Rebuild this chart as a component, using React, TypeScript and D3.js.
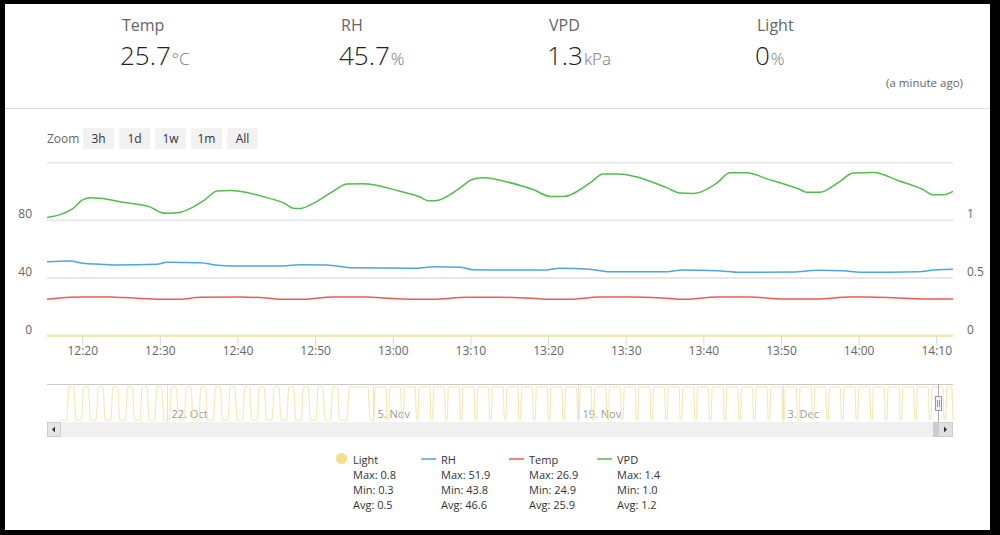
import React from "react";
import * as d3 from "d3";

// ---------- header ----------
const headerLabels = ["Temp", "RH", "VPD", "Light"];
const headerValues = ["25.7", "45.7", "1.3", "0"];
const headerUnits = ["°C", "%", "kPa", "%"];
const updatedText = "(a minute ago)";
const zoomButtons = ["3h", "1d", "1w", "1m", "All"];

// ---------- main chart data (minutes after 12:00, 14 Dec) ----------
const mainStartMin = 15.4;
const mainEndMin = 132.09;

const vpdMinutes = [15.4, 17.08, 18.62, 20.04, 20.94, 22.23, 25.45, 28.67, 29.96, 30.99, 32.15, 33.82, 35.75, 37.3, 38.97, 43.74, 46.06, 47.09, 47.99, 50.18, 52.24, 54.04, 56.1, 60.87, 63.44, 64.47, 65.38, 68.6, 70.14, 71.43, 72.72, 73.75, 78.0, 80.19, 81.86, 85.34, 87.01, 88.82, 95.26, 96.93, 98.61, 101.7, 103.37, 105.56, 108.14, 112.39, 113.29, 114.96, 117.54, 119.21, 121.79, 125.27, 128.23, 129.52, 130.81, 132.09];
const vpdValues = [1.026, 1.05, 1.097, 1.18, 1.196, 1.192, 1.154, 1.117, 1.071, 1.061, 1.065, 1.102, 1.18, 1.254, 1.258, 1.197, 1.145, 1.106, 1.103, 1.165, 1.252, 1.315, 1.317, 1.252, 1.203, 1.171, 1.17, 1.282, 1.354, 1.369, 1.363, 1.348, 1.267, 1.208, 1.206, 1.325, 1.402, 1.403, 1.282, 1.237, 1.234, 1.325, 1.413, 1.413, 1.36, 1.267, 1.243, 1.243, 1.339, 1.41, 1.415, 1.339, 1.267, 1.222, 1.222, 1.252];

const rhMinutes = [15.4, 18.36, 20.04, 22.23, 24.42, 29.57, 30.86, 35.11, 37.3, 39.36, 45.8, 47.99, 51.47, 54.43, 63.06, 65.12, 68.6, 70.27, 73.75, 79.29, 81.48, 85.34, 87.92, 95.26, 97.32, 101.7, 104.66, 111.49, 114.58, 117.93, 120.12, 127.46, 130.03, 132.09];
const rhValues = [51.33, 51.9, 50.22, 49.53, 49.04, 49.53, 50.91, 50.63, 48.83, 48.35, 48.35, 49.25, 49.04, 47.17, 46.75, 47.86, 47.44, 45.78, 45.57, 45.57, 46.75, 46.06, 44.39, 44.39, 45.57, 45.09, 43.98, 44.18, 45.36, 45.09, 43.98, 44.39, 45.78, 46.06];

const tempMinutes = [15.4, 18.36, 20.04, 23.52, 26.48, 29.96, 32.53, 35.11, 40.26, 43.74, 45.8, 47.99, 52.24, 56.62, 58.68, 63.06, 65.12, 69.5, 73.75, 78.0, 80.19, 82.38, 86.63, 90.88, 95.26, 97.32, 101.7, 105.95, 110.2, 114.58, 118.83, 121.02, 125.27, 129.52, 132.09];
const tempValues = [25.2, 26.7, 26.9, 26.9, 26.1, 25.2, 25.2, 26.7, 26.9, 26.1, 25.2, 25.2, 26.9, 26.9, 26.1, 25.2, 25.2, 26.7, 26.7, 25.9, 25.2, 25.2, 26.9, 26.9, 25.9, 25.2, 26.9, 26.9, 25.4, 25.4, 26.9, 26.9, 26.1, 25.4, 25.4];

const lightMinutes = [15.4, 132.09];
const lightValues = [0, 0];

const leftTicks = [0, 40, 80, 120];
const leftLabels = ["0", "40", "80", ""];
const rightTicks = [0, 0.5, 1, 1.5];
const rightLabels = ["0", "0.5", "1", ""];

// ---------- navigator data (days after 14 Oct 2018 00:00) ----------
const lightNavStart = 0.667;
const lightNavEnd = 61.59;
const lightOnDays = [1.13, 2.13, 3.13, 4.13, 5.13, 6.13, 7.13, 8.13, 9.13, 10.13, 11.13, 12.13, 13.13, 14.13, 15.13, 16.13, 17.13, 18.13, 19.13, 20.25, 22.08, 23.08, 24.08, 25.08, 26.08, 27.08, 28.08, 29.08, 30.08, 31.08, 32.08, 33.08, 34.08, 35.08, 36.08, 37.08, 38.08, 39.08, 40.08, 41.08, 42.08, 43.08, 44.08, 45.08, 46.08, 47.08, 48.08, 49.08, 50.08, 51.08, 52.08, 53.08, 54.08, 55.08, 56.08, 57.08, 58.08, 59.08, 60.08, 61.08];
const lightOffDays = [1.6, 2.6, 3.6, 4.6, 5.6, 6.6, 7.6, 8.6, 9.6, 10.6, 11.6, 12.6, 13.6, 14.6, 15.6, 16.6, 17.6, 18.6, 19.6, 21.67, 22.9, 23.9, 24.9, 25.9, 26.9, 27.9, 28.9, 29.9, 30.9, 31.9, 32.9, 33.9, 34.9, 35.9, 36.9, 37.9, 38.9, 39.9, 40.9, 41.9, 42.9, 43.9, 44.9, 45.9, 46.9, 47.9, 48.9, 49.9, 50.9, 51.9, 52.9, 53.9, 54.9, 55.9, 56.9, 57.9, 58.9, 59.9, 60.9, 61.5];
const navTickDates = ["2018-10-22", "2018-11-05", "2018-11-19", "2018-12-03"];
const navTickLabels = ["22. Oct", "5. Nov", "19. Nov", "3. Dec"];

// ---------- legend ----------
const legendNames = ["Light", "RH", "Temp", "VPD"];
const legendMax = ["0.8", "51.9", "26.9", "1.4"];
const legendMin = ["0.3", "43.8", "24.9", "1.0"];
const legendAvg = ["0.5", "46.6", "25.9", "1.2"];

// ---------- styles ----------
const FONT = "'Open Sans', 'DejaVu Sans', sans-serif";
const C_VPD = "#50bd4c";
const C_RH = "#4ea6e0";
const C_TEMP = "#ee5b55";
const C_LIGHT = "#f6e6a6";
const C_LIGHT_SYM = "#f3df88";

export default function App() {
  const t0 = new Date(2018, 11, 14, 12, 0, 0).getTime();
  const tm = (m: number) => new Date(t0 + m * 60000);
  const PL = 47, PR = 953, PB = 335.7, PT = 162.7;

  const x = d3.scaleTime().domain([tm(mainStartMin), tm(mainEndMin)]).range([PL, PR]);
  const yL = d3.scaleLinear().domain([0, 120]).range([PB, PT]);
  const yR = d3.scaleLinear().domain([0, 1.5]).range([PB, PT]);

  const mk = (ms: number[], vs: number[], y: d3.ScaleLinear<number, number>) =>
    d3
      .line<number>()
      .x((_, i) => x(tm(ms[i])))
      .y((v) => y(v))
      .curve(d3.curveMonotoneX)(vs) || "";

  const xTicks = x.ticks(d3.timeMinute.every(10) as any);
  const fmt = d3.timeFormat("%H:%M");

  // navigator
  const navX = d3
    .scaleTime()
    .domain([new Date(2018, 9, 13, 18, 45), new Date(2018, 11, 14, 14, 12)])
    .range([PL, PR]);
  const navY = d3.scaleLinear().domain([0, 1]).range([420, 387]);
  const base = new Date(2018, 9, 14, 0, 0).getTime();
  const dd = (d: number) => new Date(base + d * 86400000);
  const navPts: [number, number][] = [[lightNavStart, 0]];
  lightOnDays.forEach((on, i) => {
    const off = lightOffDays[i];
    const ramp = i < 20 ? 0.15 : 0.09;
    navPts.push([on, 0], [Math.min(on + ramp, off), 1], [off, 1], [off + ramp, 0]);
  });
  navPts.push([lightNavEnd, 0]);
  const navPath =
    d3
      .line<[number, number]>()
      .x((p) => navX(dd(p[0])))
      .y((p) => navY(p[1]))
      .curve(d3.curveMonotoneX)(navPts.filter((p) => p[0] <= lightNavEnd)) || "";

  const headerX = [120, 339, 547, 755];
  const legendX = [333, 421, 509, 597];
  const legendColors = [C_LIGHT_SYM, C_RH, C_TEMP, C_VPD];
  const legendRows = [463.5, 478.5, 493.5, 508.5];

  return (
    <svg
      width={1000}
      height={535}
      style={{ position: "fixed", left: 0, top: 0, fontFamily: FONT }}
    >
      <rect x={0} y={0} width={1000} height={535} fill="#000" />
      <rect x={5} y={4} width={985} height={526} fill="#fff" />

      {/* header */}
      {headerLabels.map((l, i) => (
        <g key={l}>
          <text x={headerX[i] + 2} y={31} fontSize={16} fill="#666">
            {l}
          </text>
          <text x={headerX[i]} y={65} fontSize={26} fontWeight={300} fill="#222">
            {headerValues[i]}
            <tspan fontSize={17} fill="#777" dx={1}>
              {headerUnits[i]}
            </tspan>
          </text>
        </g>
      ))}
      <text x={963} y={87} fontSize={11.5} fill="#666" textAnchor="end">
        {updatedText}
      </text>
      <line x1={5} x2={990} y1={108.5} y2={108.5} stroke="#dcdcdc" strokeWidth={1} />

      {/* zoom buttons */}
      <text x={47} y={143} fontSize={12} fill="#666">
        Zoom
      </text>
      {zoomButtons.map((b, i) => (
        <g key={b}>
          <rect x={83 + i * 36} y={128} width={31} height={21} fill="#f2f2f2" />
          <text x={98.5 + i * 36} y={142.5} fontSize={12} fill="#333" textAnchor="middle">
            {b}
          </text>
        </g>
      ))}

      {/* grid */}
      {leftTicks.map((t) => (
        <line key={t} x1={PL} x2={PR} y1={yL(t)} y2={yL(t)} stroke="#e8e8e8" strokeWidth={2} />
      ))}
      {leftTicks.map((t, i) => (
        <text key={"l" + t} x={32} y={yL(t) - 2} fontSize={12} fill="#666" textAnchor="end">
          {leftLabels[i]}
        </text>
      ))}
      {rightTicks.map((t, i) => (
        <text key={"r" + t} x={967} y={yR(t) - 2} fontSize={12} fill="#666">
          {rightLabels[i]}
        </text>
      ))}

      {/* x axis */}
      {xTicks.map((t) => (
        <g key={+t}>
          <line x1={x(t)} x2={x(t)} y1={PB} y2={PB + 10} stroke="#ccd6eb" strokeWidth={1} />
          <text x={x(t)} y={355} fontSize={12} fill="#666" textAnchor="middle">
            {fmt(t)}
          </text>
        </g>
      ))}

      {/* series */}
      <path d={mk(lightMinutes, lightValues, yR)} fill="none" stroke={C_LIGHT} strokeWidth={2} />
      <path d={mk(tempMinutes, tempValues, yL)} fill="none" stroke={C_TEMP} strokeWidth={1.5} />
      <path d={mk(rhMinutes, rhValues, yL)} fill="none" stroke={C_RH} strokeWidth={1.5} />
      <path d={mk(vpdMinutes, vpdValues, yR)} fill="none" stroke={C_VPD} strokeWidth={1.5} />

      {/* navigator */}
      <line x1={PL} x2={PR} y1={384.5} y2={384.5} stroke="#c8c8c8" strokeWidth={1} />
      {navTickDates.map((d, i) => {
        const [yy, mm, dday] = d.split("-").map(Number);
        const px = Math.round(navX(new Date(yy, mm - 1, dday))) + 0.5;
        return (
          <g key={d}>
            <line x1={px} x2={px} y1={385} y2={422} stroke="#e3e3e3" strokeWidth={1} />
            <text x={px + 4} y={418} fontSize={11} fill="#999">
              {navTickLabels[i]}
            </text>
          </g>
        );
      })}
      <path d={navPath} fill="none" stroke={C_LIGHT} strokeWidth={1} />
      <line x1={938.5} x2={938.5} y1={384} y2={422} stroke="#aaa" strokeWidth={1} />
      <rect x={935.5} y={396.5} width={6} height={14} fill="#f2f2f2" stroke="#999" strokeWidth={1} />
      <line x1={937.5} x2={937.5} y1={400} y2={407} stroke="#999" />
      <line x1={939.5} x2={939.5} y1={400} y2={407} stroke="#999" />

      {/* scrollbar */}
      <rect x={PL} y={422} width={PR - PL} height={15} fill="#f0f0f0" />
      <rect x={PL + 0.5} y={422.5} width={13} height={14} fill="#e6e6e6" stroke="#cccccc" />
      <path d={`M${PL + 8},426.5 L${PL + 5},429.5 L${PL + 8},432.5 Z`} fill="#333" />
      <rect x={933} y={422} width={5} height={15} fill="#cccccc" />
      <rect x={938.5} y={422.5} width={14} height={14} fill="#e0e0e0" stroke="#cccccc" />
      <path d={`M${944},426.5 L${947},429.5 L${944},432.5 Z`} fill="#333" />

      {/* legend */}
      {legendNames.map((n, i) => (
        <g key={n} fontSize={11} fill="#333">
          {i === 0 ? (
            <circle cx={legendX[i] + 8.5} cy={458.5} r={5.5} fill={legendColors[i]} />
          ) : (
            <line x1={legendX[i]} x2={legendX[i] + 15} y1={459} y2={459} stroke={legendColors[i]} strokeWidth={1.5} />
          )}
          <text x={legendX[i] + 20} y={legendRows[0]}>{n}</text>
          <text x={legendX[i] + 20} y={legendRows[1]}>{"Max: " + legendMax[i]}</text>
          <text x={legendX[i] + 20} y={legendRows[2]}>{"Min: " + legendMin[i]}</text>
          <text x={legendX[i] + 20} y={legendRows[3]}>{"Avg: " + legendAvg[i]}</text>
        </g>
      ))}
    </svg>
  );
}
